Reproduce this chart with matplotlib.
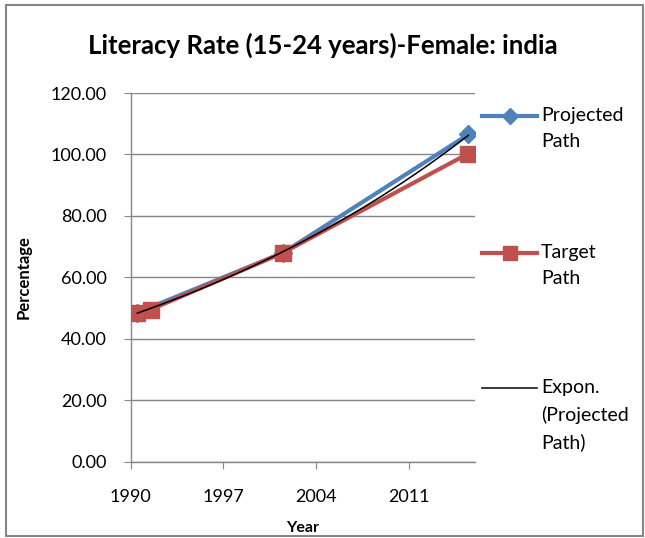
import numpy as np
import matplotlib
matplotlib.use("Agg")
import matplotlib.pyplot as plt
from matplotlib.lines import Line2D
from matplotlib.patches import Rectangle

plt.rcParams['font.family'] = ['Lato', 'DejaVu Sans']

# data
proj_years = [1990.5, 2001.5, 2015.5]
proj_values = [48.5, 68.0, 106.5]
target_years = [1990.5, 1991.5, 2001.5, 2015.5]
target_values = [48.5, 49.5, 68.0, 100.3]
x_ticks = [1990, 1997, 2004, 2011]
y_ticks = [0, 20, 40, 60, 80, 100, 120]

blue = '#4F81BD'
red = '#C0504D'
grey = '#868686'

fig = plt.figure(figsize=(6.45, 5.38), dpi=100)
ax = fig.add_axes([0.2026, 0.1418, 0.5338, 0.6853])

# exponential trendline through projected path
b, a = np.polyfit(proj_years, np.log(proj_values), 1)
tx = np.linspace(proj_years[0], proj_years[-1], 100)
ty = np.exp(a + b * tx)

ax.plot(proj_years, proj_values, color=blue, lw=3, marker='D', ms=9, zorder=3)
ax.plot(target_years, target_values, color=red, lw=3, marker='s', ms=11.5, zorder=4)
ax.plot(tx, ty, color='black', lw=1.1, zorder=5)

ax.set_xlim(1990, 2016)
ax.set_ylim(0, 120)
ax.set_xticks(x_ticks)
ax.set_yticks(y_ticks)
ax.set_yticklabels([f'{v:.2f}' for v in y_ticks])
ax.yaxis.grid(True, color=grey, lw=1)
ax.set_axisbelow(True)
for s in ['top', 'right']:
    ax.spines[s].set_visible(False)
for s in ['left', 'bottom']:
    ax.spines[s].set_color(grey)
    ax.spines[s].set_linewidth(1)
ax.tick_params(direction='out', length=5, color=grey, labelsize=13)
ax.tick_params(axis='y', pad=12)
ax.tick_params(axis='x', pad=15)

ax.set_xlabel('Year', fontsize=11.5, fontweight='bold', labelpad=11)
ax.set_ylabel('Percentage', fontsize=12, fontweight='bold', labelpad=14)
fig.text(0.5, 0.916, 'Literacy Rate (15-24 years)-Female: india', ha='center',
         va='center', fontsize=18.5, fontweight='bold')

# legend drawn by hand to mimic Excel layout
W, H = 645, 538
entries = [
    (116, Line2D([], [], color=blue, lw=3, marker='D', ms=8), 'Projected\nPath'),
    (253, Line2D([], [], color=red, lw=3, marker='s', ms=10), 'Target\nPath'),
    (388, Line2D([], [], color='black', lw=1.1), 'Expon.\n(Projected\nPath)'),
]
for y, proto, label in entries:
    ln = Line2D([482 / W, 537 / W], [1 - y / H, 1 - y / H], transform=fig.transFigure,
                color=proto.get_color(), lw=proto.get_linewidth())
    fig.lines.append(ln)
    if proto.get_marker() not in ('None', None, ''):
        mk = Line2D([510 / W], [1 - y / H], transform=fig.transFigure,
                    color=proto.get_color(), marker=proto.get_marker(),
                    ms=proto.get_markersize(), lw=0)
        fig.lines.append(mk)
    fig.text(541 / W, 1 - (y - 9) / H, label, ha='left', va='top', fontsize=14,
             linespacing=1.65)

fig.patches.append(Rectangle((6 / W, 2 / H), 637 / W, 531 / H, transform=fig.transFigure,
                             fill=False, edgecolor=grey, lw=1.5))

fig.savefig('out.png', dpi=100)
